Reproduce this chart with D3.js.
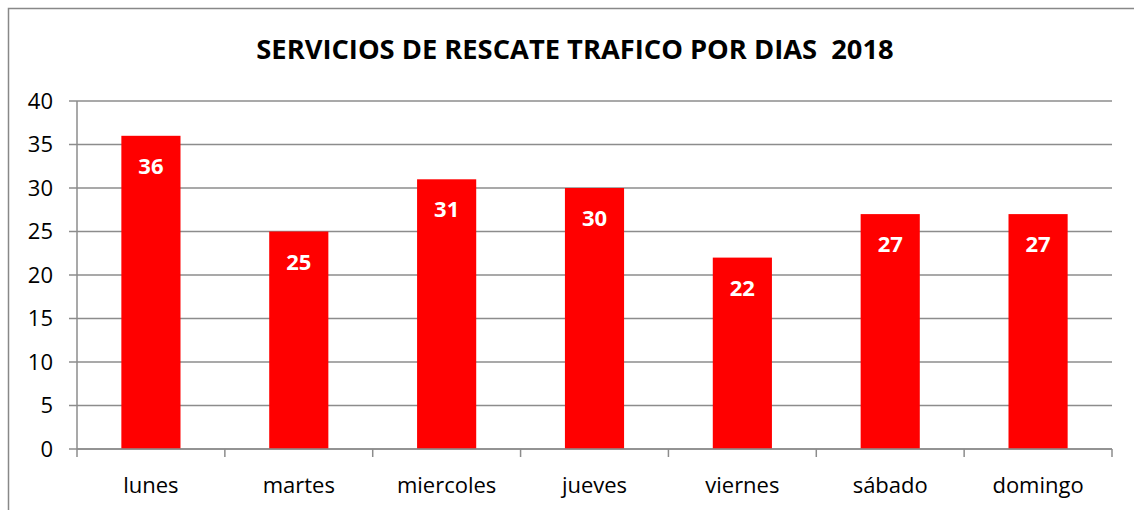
<!DOCTYPE html>
<html>
<head>
<meta charset="utf-8">
<script src="https://cdn.jsdelivr.net/npm/d3@7"></script>
<style>
  body { margin: 0; background: #fff; overflow: hidden; }
  svg { display: block; font-family: "Open Sans", "Noto Sans", sans-serif; }
</style>
</head>
<body>
<svg width="1134" height="510"></svg>
<script>
const dias = ["lunes", "martes", "miercoles", "jueves", "viernes", "sábado", "domingo"];
const servicios = [36, 25, 31, 30, 22, 27, 27];
const yTicks = [0, 5, 10, 15, 20, 25, 30, 35, 40];
const titulo = "SERVICIOS DE RESCATE TRAFICO POR DIAS\u00a0 2018";

const svg = d3.select("svg");
const margin = {top: 101, right: 22, bottom: 61, left: 77};
const width = 1134 - margin.left - margin.right;
const height = 510 - margin.top - margin.bottom;

// outer chart frame: only the top and left edges fall inside the picture
svg.append("path")
  .attr("d", "M8.5,510 V8.5 H1134")
  .attr("fill", "none")
  .attr("stroke", "#888")
  .attr("stroke-width", 1.5);

svg.append("text")
  .attr("x", 575).attr("y", 59)
  .attr("text-anchor", "middle")
  .style("font-size", "27.3px")
  .style("font-weight", "bold")
  .text(titulo);

const g = svg.append("g").attr("transform", `translate(${margin.left},${margin.top})`);

const x = d3.scaleBand().domain(dias).range([0, width]).paddingInner(0.6).paddingOuter(0.3);
const xTick = d3.scaleBand().domain(dias).range([0, width]);
const y = d3.scaleLinear().domain([0, 40]).range([height, 0]);

// gridlines
g.selectAll(".grid")
  .data(yTicks)
  .join("line")
  .attr("x1", -8).attr("x2", width)
  .attr("y1", d => y(d)).attr("y2", d => y(d))
  .attr("stroke", "#8c8c8c")
  .attr("stroke-width", 1.5);

// y axis line
g.append("line")
  .attr("x1", 0).attr("x2", 0)
  .attr("y1", 0).attr("y2", height)
  .attr("stroke", "#8c8c8c").attr("stroke-width", 1.5);

g.selectAll(".ylab")
  .data(yTicks)
  .join("text")
  .attr("x", -24).attr("y", d => y(d))
  .attr("dy", "0.35em")
  .attr("text-anchor", "end")
  .style("font-size", "22px")
  .text(d => d);

// bars
g.selectAll(".bar")
  .data(servicios)
  .join("rect")
  .attr("x", (d, i) => x(dias[i]))
  .attr("y", d => y(d))
  .attr("width", x.bandwidth())
  .attr("height", d => height - y(d))
  .attr("fill", "#ff0000");

g.selectAll(".val")
  .data(servicios)
  .join("text")
  .attr("x", (d, i) => x(dias[i]) + x.bandwidth() / 2)
  .attr("y", d => y(d) + 38)
  .attr("text-anchor", "middle")
  .attr("fill", "#fff")
  .style("font-size", "22px")
  .style("font-weight", "bold")
  .text(d => d);

// x axis with category ticks
g.append("line")
  .attr("x1", 0).attr("x2", width)
  .attr("y1", height).attr("y2", height)
  .attr("stroke", "#8c8c8c").attr("stroke-width", 1.5);

const bounds = dias.map(d => xTick(d)).concat([width]);
g.selectAll(".xt")
  .data(bounds)
  .join("line")
  .attr("x1", d => d).attr("x2", d => d)
  .attr("y1", height).attr("y2", height + 8)
  .attr("stroke", "#8c8c8c").attr("stroke-width", 1.5);

g.selectAll(".xlab")
  .data(dias)
  .join("text")
  .attr("x", d => xTick(d) + xTick.bandwidth() / 2)
  .attr("y", height + 44)
  .attr("text-anchor", "middle")
  .style("font-size", "22px")
  .text(d => d);
</script>
</body>
</html>
